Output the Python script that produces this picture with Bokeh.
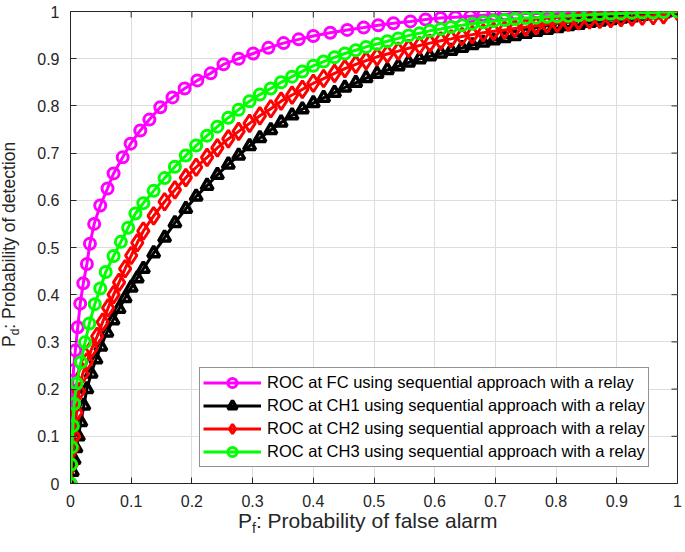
from bokeh.plotting import figure
from bokeh.models import Range1d, FixedTicker, Legend, LegendItem, Div
from bokeh.layouts import row, column
from bokeh.embed import file_html
from bokeh.resources import INLINE

# ---------------- data ----------------
x_ticks = [0, 0.1, 0.2, 0.3, 0.4, 0.5, 0.6, 0.7, 0.8, 0.9, 1]
x_tick_labels = ["0", "0.1", "0.2", "0.3", "0.4", "0.5", "0.6", "0.7", "0.8", "0.9", "1"]
y_ticks = [0, 0.1, 0.2, 0.3, 0.4, 0.5, 0.6, 0.7, 0.8, 0.9, 1]
y_tick_labels = ["0", "0.1", "0.2", "0.3", "0.4", "0.5", "0.6", "0.7", "0.8", "0.9", "1"]

series_names = [
    "ROC at FC using sequential approach with a relay",
    "ROC at CH1 using sequential approach with a relay",
    "ROC at CH2 using sequential approach with a relay",
    "ROC at CH3 using sequential approach with a relay",
]

# FC (magenta)
fc_pf = [0.000, 0.0005, 0.001, 0.002, 0.003, 0.005, 0.008, 0.012, 0.016, 0.021,
         0.027, 0.032, 0.039, 0.049, 0.061, 0.071, 0.086, 0.099, 0.115, 0.130,
         0.148, 0.168, 0.188, 0.209, 0.231, 0.252, 0.277, 0.301, 0.326, 0.351,
         0.376, 0.400, 0.428, 0.456, 0.483, 0.507, 0.532, 0.560, 0.585, 0.610,
         0.634, 0.659, 0.680, 0.698, 0.716, 0.734, 0.752, 0.770, 0.788, 0.806,
         0.824, 0.842, 0.860, 0.878, 0.896, 0.914, 0.932, 0.950, 0.968, 0.985, 1.000]
fc_pd = [0.000, 0.055, 0.110, 0.155, 0.197, 0.240, 0.282, 0.331, 0.381, 0.424,
         0.465, 0.508, 0.550, 0.589, 0.625, 0.657, 0.691, 0.720, 0.748, 0.771,
         0.797, 0.818, 0.837, 0.854, 0.869, 0.888, 0.900, 0.911, 0.923, 0.933,
         0.941, 0.948, 0.955, 0.961, 0.966, 0.971, 0.975, 0.979, 0.983, 0.986,
         0.988, 0.990, 0.992, 0.993, 0.994, 0.995, 0.9955, 0.996, 0.9965, 0.997,
         0.9975, 0.998, 0.9983, 0.9986, 0.9989, 0.9991, 0.9993, 0.9995, 0.9997, 0.9999, 1.000]

# Pf sampling shared by the cluster-head curves above Pf ~ 0.12
ch_pf_upper = [0.120, 0.137, 0.155, 0.172, 0.190, 0.207, 0.225, 0.242, 0.260, 0.277,
               0.295, 0.312, 0.330, 0.347, 0.365, 0.382, 0.400, 0.417, 0.435, 0.452,
               0.470, 0.487, 0.505, 0.522, 0.540, 0.557, 0.575, 0.592, 0.610, 0.627,
               0.645, 0.662, 0.680, 0.697, 0.715, 0.732, 0.750, 0.767, 0.785, 0.802,
               0.820, 0.837, 0.855, 0.872, 0.890, 0.907, 0.925, 0.942, 0.960, 0.977, 1.000]

# CH1 (black)
ch1_pf_low = [0.000, 0.003, 0.006, 0.009, 0.013, 0.017, 0.022, 0.027, 0.034, 0.042,
              0.050, 0.060, 0.070, 0.080, 0.090, 0.100, 0.110]
ch1_pd_low = [0.000, 0.025, 0.050, 0.075, 0.100, 0.130, 0.165, 0.200, 0.233, 0.263,
              0.290, 0.320, 0.346, 0.370, 0.393, 0.415, 0.435]
ch1_pd_upper = [0.455, 0.488, 0.521, 0.552, 0.582, 0.608, 0.631, 0.654, 0.676, 0.695,
                0.715, 0.732, 0.749, 0.765, 0.780, 0.793, 0.806, 0.817, 0.828, 0.839,
                0.849, 0.859, 0.868, 0.876, 0.884, 0.892, 0.899, 0.905, 0.911, 0.917,
                0.923, 0.929, 0.934, 0.939, 0.944, 0.948, 0.953, 0.957, 0.961, 0.965,
                0.969, 0.972, 0.976, 0.979, 0.982, 0.985, 0.988, 0.991, 0.994, 0.996, 1.000]

# CH2 (red)
ch2_pf_low = [0.000, 0.002, 0.004, 0.006, 0.010, 0.014, 0.020, 0.027, 0.035, 0.044,
              0.053, 0.062, 0.071, 0.080, 0.090, 0.100, 0.110]
ch2_pd_low = [0.000, 0.040, 0.075, 0.100, 0.150, 0.195, 0.232, 0.258, 0.286, 0.312,
              0.342, 0.372, 0.400, 0.426, 0.455, 0.483, 0.510]
ch2_pd_upper = [0.535, 0.567, 0.597, 0.622, 0.648, 0.670, 0.691, 0.711, 0.730, 0.746,
                0.763, 0.779, 0.794, 0.810, 0.823, 0.835, 0.848, 0.858, 0.869, 0.879,
                0.888, 0.896, 0.904, 0.910, 0.916, 0.922, 0.928, 0.933, 0.938, 0.942,
                0.947, 0.951, 0.955, 0.958, 0.961, 0.964, 0.967, 0.970, 0.973, 0.975,
                0.977, 0.980, 0.982, 0.983, 0.985, 0.987, 0.988, 0.990, 0.991, 0.993, 1.000]

# CH3 (green)
ch3_pf_low = [0.000, 0.001, 0.002, 0.004, 0.006, 0.010, 0.017, 0.024, 0.031, 0.040,
              0.049, 0.058, 0.071, 0.083, 0.095, 0.107]
ch3_pd_low = [0.000, 0.040, 0.077, 0.122, 0.169, 0.212, 0.257, 0.299, 0.339, 0.380,
              0.413, 0.448, 0.482, 0.512, 0.542, 0.572]
ch3_pd_upper = [0.594, 0.620, 0.647, 0.671, 0.695, 0.716, 0.737, 0.756, 0.775, 0.792,
                0.810, 0.824, 0.837, 0.850, 0.862, 0.873, 0.885, 0.894, 0.903, 0.911,
                0.918, 0.925, 0.931, 0.937, 0.943, 0.949, 0.954, 0.959, 0.963, 0.967,
                0.971, 0.974, 0.977, 0.980, 0.982, 0.984, 0.986, 0.987, 0.989, 0.990,
                0.991, 0.992, 0.993, 0.994, 0.995, 0.996, 0.997, 0.998, 0.998, 0.999, 1.000]

ch1_pf = ch1_pf_low + ch_pf_upper
ch1_pd = ch1_pd_low + ch1_pd_upper
ch2_pf = ch2_pf_low + ch_pf_upper
ch2_pd = ch2_pd_low + ch2_pd_upper
ch3_pf = ch3_pf_low + ch_pf_upper
ch3_pd = ch3_pd_low + ch3_pd_upper
assert len(fc_pf) == len(fc_pd)
assert len(ch1_pf) == len(ch1_pd) and len(ch2_pf) == len(ch2_pd) and len(ch3_pf) == len(ch3_pd)

# ---------------- figure ----------------
FONT = "Liberation Sans"
AX = "#262626"
FIG_W, FIG_H = 655, 516
B_L, B_R, B_T, B_B = 40, 8, 11, 33
FRAME_W = FIG_W - B_L - B_R
FRAME_H = FIG_H - B_T - B_B
TICK = 6

p = figure(width=FIG_W, height=FIG_H, output_backend="svg", toolbar_location=None,
           x_range=Range1d(0, 1), y_range=Range1d(0, 1),
           min_border_left=B_L, min_border_right=B_R, min_border_top=B_T, min_border_bottom=B_B)
p.background_fill_color = "white"
p.border_fill_color = "white"
p.outline_line_color = AX
p.outline_line_width = 1

xt = FixedTicker(ticks=x_ticks)
yt = FixedTicker(ticks=y_ticks)
p.xaxis.ticker = xt
p.yaxis.ticker = yt
p.xaxis.major_label_overrides = {t: s for t, s in zip(x_ticks, x_tick_labels)}
p.yaxis.major_label_overrides = {t: s for t, s in zip(y_ticks, y_tick_labels)}
for ax in (p.xaxis[0], p.yaxis[0]):
    ax.major_tick_in = TICK
    ax.major_tick_out = 0
    ax.minor_tick_line_color = None
    ax.axis_line_color = AX
    ax.major_tick_line_color = AX
    ax.major_label_text_font = FONT
    ax.major_label_text_font_size = "16px"
    ax.major_label_text_color = AX
p.xaxis.major_label_standoff = 11
p.yaxis.major_label_standoff = 11

p.xgrid.ticker = xt
p.ygrid.ticker = yt
p.grid.grid_line_color = "#dedede"
p.grid.grid_line_width = 1

# inward ticks on the top and right edges (box on)
ty = TICK / FRAME_H
tx = TICK / FRAME_W
p.segment(x0=x_ticks, y0=[1] * len(x_ticks), x1=x_ticks, y1=[1 - ty] * len(x_ticks),
          line_color=AX, line_width=1)
p.segment(x0=[1] * len(y_ticks), y0=y_ticks, x1=[1 - tx] * len(y_ticks), y1=y_ticks,
          line_color=AX, line_width=1)

# ---------------- series ----------------
specs = [
    (fc_pf, fc_pd, "#ff00ff", "circle", 11, 3),
    (ch1_pf, ch1_pd, "#000000", "triangle", 12, 3.5),
    (ch2_pf, ch2_pd, "#ff0000", "diamond", 17, 3),
    (ch3_pf, ch3_pd, "#00ff00", "circle", 11, 3),
]
items = []
for (xs, ys, col, mk, sz, lw), name in zip(specs, series_names):
    lr = p.line(xs, ys, line_color=col, line_width=3)
    sr = p.scatter(xs, ys, marker=mk, size=sz, line_color=col, line_width=lw, fill_color=None)
    items.append(LegendItem(label=name, renderers=[lr, sr]))

legend = Legend(items=items, location=(129, 16), orientation="vertical",
                label_text_font=FONT, label_text_font_size="16.5px", label_text_color="#000000",
                glyph_width=58, glyph_height=23, label_height=23, spacing=0,
                padding=3, margin=0, label_standoff=6,
                border_line_color=AX, border_line_width=1,
                background_fill_color="white", background_fill_alpha=1)
p.add_layout(legend)

# ---------------- axis titles (HTML text, with subscripts) ----------------
def title_style(size):
    return ("font-family:'Liberation Sans'; font-size:%s; color:#262626; "
            "white-space:nowrap; line-height:18px;" % size)

ylabel_html = (
    '<div style="position:relative; width:30px; height:552px;">'
    '<div style="position:absolute; left:-261px; top:261px; width:552px; height:30px; '
    'transform:rotate(-90deg); transform-origin:50% 50%; text-align:left; '
    'padding-left:205px; box-sizing:border-box; ' + title_style("17.5px") + '">'
    'P<span style="font-size:12px; position:relative; top:4px;">d</span>'
    ': Probability of detection</div></div>'
)
xlabel_html = (
    '<div style="position:relative; width:655px; height:36px;">'
    '<div style="position:absolute; left:208px; top:-4px; ' + title_style("21px") + '">'
    'P<span style="font-size:14px; position:relative; top:5px;">f</span>'
    ': Probability of false alarm</div></div>'
)
ylabel_div = Div(text=ylabel_html, width=30, height=552, margin=0)
xlabel_div = Div(text=xlabel_html, width=FIG_W, height=36, margin=0)

layout = row(ylabel_div, column(p, xlabel_div, spacing=0), spacing=0)

open("out.html", "w").write(file_html(layout, INLINE))
